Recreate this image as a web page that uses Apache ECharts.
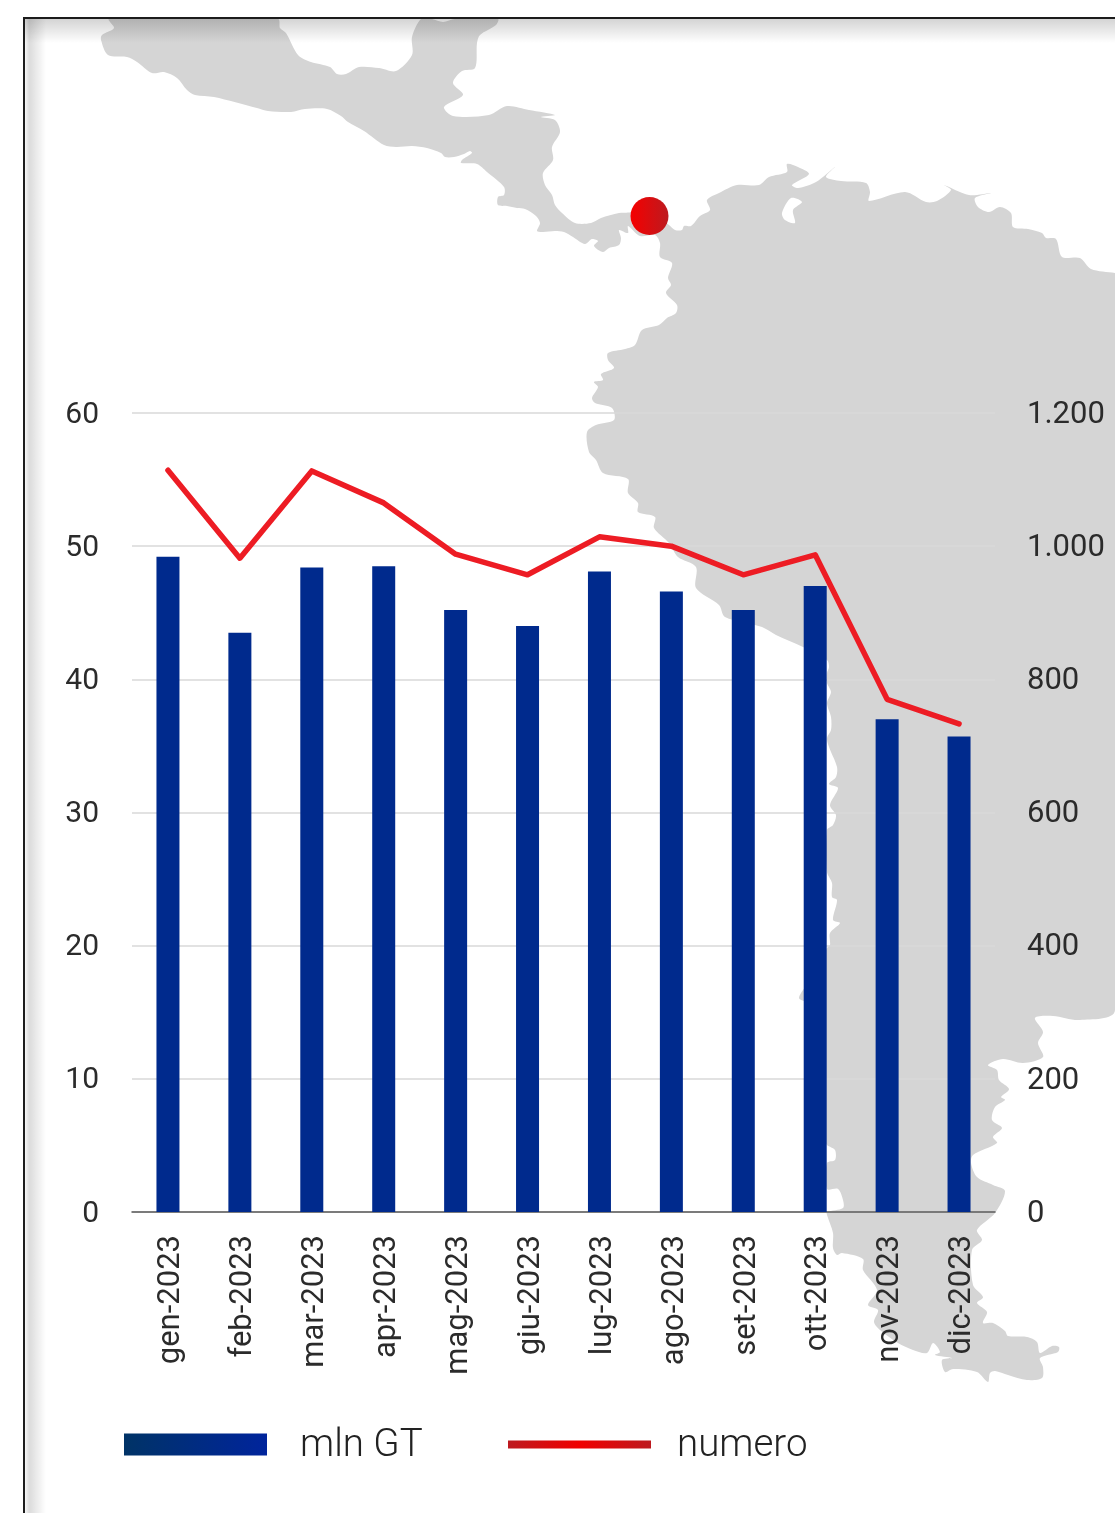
<!DOCTYPE html>
<html>
<head>
<meta charset="utf-8">
<title>mln GT / numero</title>
<script src="https://cdn.jsdelivr.net/npm/echarts@6/dist/echarts.min.js"></script>
<style>
  html, body { margin: 0; padding: 0; background: #fff; }
  #chart { width: 1115px; height: 1513px; }
</style>
</head>
<body>
<div id="chart"></div>
<script>
// ─── Data ─────────────────────────────────────────────────────────────────
const months = ["gen-2023", "feb-2023", "mar-2023", "apr-2023", "mag-2023", "giu-2023",
                "lug-2023", "ago-2023", "set-2023", "ott-2023", "nov-2023", "dic-2023"];
const mlnGT  = [49.2, 43.5, 48.4, 48.5, 45.2, 44.0, 48.1, 46.6, 45.2, 47.0, 37.0, 35.7];
const numero = [1114, 982, 1113, 1065, 988, 957, 1014, 1000, 957, 987, 770, 733];

// ─── Background map (decoration only, page pixels) ────────────────────────
const pacificCoast = [[109,19],[114,28],[102,35],[101,40],[108,55],[127,57],[137,62],[152,73],[164,72],[177,78],
  [187,90],[195,95],[214,97],[257,108],[268,111],[291,112],[305,109],[327,109],[341,116],[348,122],[364,131],
  [384,145],[396,147],[412,146],[427,148],[441,153],[445,157],[454,157],[464,154],[470,151],[472,153],[462,160],
  [461,163],[477,164],[487,172],[504,187],[504,195],[498,197],[498,205],[507,206],[517,208],[525,209],[536,216],
  [540,223],[537,231],[543,232],[555,231],[564,232],[573,237],[585,244],[592,239],[598,241],[594,246],[603,252],
  [609,248],[619,245],[621,238],[619,230],[628,233],[628,226],[640,236],[655,235],[660,243],[660,257],[672,263],
  [668,278],[671,285],[666,293],[677,305],[676,313],[667,318],[659,325],[642,330],[635,345],[625,349],[608,353],
  [608,360],[614,368],[601,374],[603,380],[594,382],[598,387],[592,398],[595,403],[612,408],[614,420],[596,425],
  [587,432],[589,452],[596,460],[603,473],[628,479],[628,493],[638,503],[638,512],[655,517],[654,528],[669,543],
  [678,557],[696,567],[696,588],[719,605],[725,617],[762,627],[776,635],[803,647],[827,660],[829,667],[827,673],
  [827,683],[831,692],[827,703],[831,717],[831,730],[827,738],[829,747],[837,767],[836,777],[829,784],[838,788],
  [830,805],[836,815],[833,825],[827,830],[827,872],[832,883],[832,897],[837,900],[833,920],[840,923],[830,933],
  [830,945],[827,948],[815,975],[803,990],[799,998],[804,1001],[820,1005],[822,1060],[825,1140],[827,1145],
  [835,1150],[835,1160],[827,1163],[827,1189],[838,1189],[843,1200],[843,1208],[827,1212],[827,1215],[833,1233],
  [833,1248],[837,1255],[842,1253],[863,1259],[863,1270],[877,1290],[868,1305],[878,1310],[874,1322],[880,1330],
  [898,1343],[913,1350],[927,1353],[933,1343],[940,1352],[935,1355],[952,1358],[942,1360],[945,1372],[953,1369],
  [977,1372],[988,1382],[990,1373],[995,1371],[1008,1375],[1027,1380],[1042,1378],[1043,1367],[1040,1358],
  [1058,1352],[1059,1347],[1052,1346],[1040,1353],[1037,1342],[1027,1337],[1008,1336],[1005,1331],[993,1323],
  [983,1323],[987,1312],[977,1303],[983,1297],[973,1285],[972,1250],[982,1240],[977,1230],[995,1213],[1005,1191],
  [993,1185],[977,1177],[971,1163],[973,1155],[997,1143],[993,1137],[1002,1128],[992,1120],[995,1107],[1005,1100],
  [1001,1097],[1009,1089],[999,1080],[997,1070],[988,1065],[1003,1059],[1023,1063],[1043,1057],[1038,1043],
  [1043,1032],[1035,1018],[1053,1016],[1080,1020],[1115,1010]];
const northCoast = [[669,225],[675,230],[682,230],[684,226],[691,226],[700,216],[710,210],[707,200],[719,193],
  [737,185],[759,185],[769,177],[787,172],[787,164],[798,167],[809,174],[792,185],[798,188],[816,182],[835,167],
  [826,177],[841,181],[866,183],[870,192],[869,201],[905,192],[926,202],[937,201],[951,190],[944,185],[969,195],
  [991,193],[975,198],[978,207],[989,212],[1000,207],[1011,213],[1013,227],[1028,229],[1042,233],[1046,238],
  [1056,239],[1062,257],[1080,258],[1091,269],[1115,273]];
const panamaNorth = [[555,205],[562,213],[575,223],[591,223],[601,218],[619,213],[631,212]];
const caribbeanCoast = [[498,19],[496,25],[480,35],[477,43],[475,68],[462,71],[453,83],[463,95],[444,107],[453,116],
  [489,115],[507,106],[529,110],[555,115],[541,117],[555,120],[560,132],[552,147],[553,160],[543,173],[545,185],[552,195]];
const gulfCoast = [[278,19],[280,28],[286,33],[298,55],[311,62],[330,67],[337,74],[346,74],[359,67],[379,68],[396,71],
  [412,55],[412,37],[421,19],[432,19],[443,22],[455,19]];
const maracaibo = [[791,198],[802,202],[793,210],[795,223],[785,220],[782,213]];

const mapOutline = [
  ...pacificCoast,
  [1115, 273],
  ...[...northCoast].reverse(),
  [640, 205],
  ...[...panamaNorth].reverse(),
  ...[...caribbeanCoast].reverse(),
  ...[...gulfCoast].reverse()
];

function hGrad(stops) {
  return new echarts.graphic.LinearGradient(0, 0, 1, 0,
    stops.map((c, i) => ({ offset: i / (stops.length - 1), color: c })));
}

// rich-text token nudges a label inside its box: plain padding does not move it
function nudged(fontSize, top, extra) {
  return { t: { fontFamily: FONT, fontSize, color: '#2b2b2b', padding: [top, 0, 0, 0], ...extra } };
}

// ─── Chart ────────────────────────────────────────────────────────────────
const chart = echarts.init(document.getElementById('chart'), null, { renderer: 'canvas' });
const FONT = 'Roboto';

chart.setOption({
  animation: false,
  backgroundColor: '#fff',
  textStyle: { fontFamily: FONT },
  grid: { left: 132, right: 120, top: 413, bottom: 301, containLabel: false },
  legend: [
    {
      left: 119, top: 1422, itemWidth: 143, itemHeight: 22, selectedMode: false,
      formatter: '{t|{name}}',
      textStyle: { padding: [0, 0, 0, 28], rich: nudged(38.5, 4, { fontWeight: 300, color: '#222' }) },
      data: [{ name: 'mln GT', icon: 'rect', itemStyle: { color: hGrad(['#003366', '#00249c']), borderWidth: 0 } }]
    },
    {
      left: 503, top: 1422, itemWidth: 143, itemHeight: 8, selectedMode: false,
      formatter: '{t|{name}}',
      textStyle: { padding: [0, 0, 0, 21], rich: nudged(38.5, 4, { fontWeight: 300, color: '#222' }) },
      data: [{ name: 'numero', icon: 'rect', itemStyle: { color: hGrad(['#bd1a1f', '#f00000', '#bd1a1f']), borderWidth: 0 } }]
    }
  ],
  xAxis: {
    type: 'category',
    data: months,
    axisTick: { show: false },
    axisLine: { lineStyle: { color: '#595959', width: 1.5 } },
    axisLabel: {
      rotate: 90, interval: 0, margin: 23,
      formatter: v => `{t|${v}}`,
      rich: nudged(31, 7)
    }
  },
  yAxis: [
    {
      type: 'value', min: 0, max: 60, interval: 10,
      axisLine: { show: false }, axisTick: { show: false },
      axisLabel: { margin: 33, formatter: v => `{t|${v}}`, rich: nudged(30, 4) },
      splitLine: { lineStyle: { color: '#d9d9d9', width: 1.5 } }
    },
    {
      type: 'value', min: 0, max: 1200, interval: 200, position: 'right',
      axisLine: { show: false }, axisTick: { show: false },
      axisLabel: {
        margin: 32,
        formatter: v => `{t|${String(v).replace(/\B(?=(\d{3})+$)/g, '.')}}`,
        rich: nudged(31, 4)
      },
      splitLine: { show: false }
    }
  ],
  series: [
    {
      name: 'mln GT', type: 'bar', data: mlnGT, barWidth: 23,
      itemStyle: { color: '#002a8d' }
    },
    {
      name: 'numero', type: 'line', yAxisIndex: 1, data: numero,
      symbol: 'none', z: 5,
      lineStyle: { color: '#ed1c24', width: 5.5, cap: 'round', join: 'round' }
    }
  ],
  graphic: [
    { type: 'polygon', z: -10, silent: true, shape: { points: mapOutline, smooth: 0.3 }, style: { fill: '#d5d5d5' } },
    { type: 'polygon', z: -9, silent: true, shape: { points: maracaibo, smooth: 0.3 }, style: { fill: '#fff' } },
    { type: 'circle', z: 6, silent: true, shape: { cx: 649.5, cy: 216, r: 19 },
      style: { fill: hGrad(['#f50000', '#bd1a1f']) } },
    // inner shadow of the frame
    { type: 'rect', z: 8, silent: true, shape: { x: 25, y: 19, width: 1090, height: 24 },
      style: { fill: new echarts.graphic.LinearGradient(0, 0, 0, 1, [
        { offset: 0, color: 'rgba(0,0,0,0.17)' }, { offset: 1, color: 'rgba(0,0,0,0)' }]) } },
    { type: 'rect', z: 8, silent: true, shape: { x: 25, y: 19, width: 21, height: 1494 },
      style: { fill: new echarts.graphic.LinearGradient(0, 0, 1, 0, [
        { offset: 0, color: 'rgba(0,0,0,0.03)' }, { offset: 0.2, color: 'rgba(0,0,0,0.14)' }, { offset: 1, color: 'rgba(0,0,0,0)' }]) } },
    // frame
    { type: 'rect', z: 9, silent: true, shape: { x: 23, y: 17, width: 1092, height: 2 }, style: { fill: '#1c1c1c' } },
    { type: 'rect', z: 9, silent: true, shape: { x: 23, y: 17, width: 2, height: 1496 }, style: { fill: '#1c1c1c' } }
  ]
});
</script>
</body>
</html>
